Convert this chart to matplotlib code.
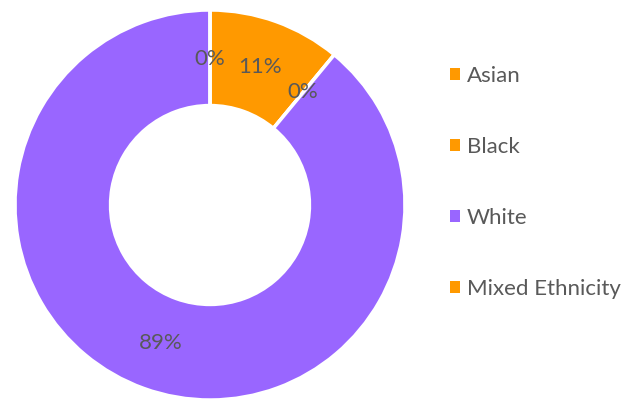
import matplotlib.pyplot as plt
from matplotlib.patches import Patch

# ethnicity breakdown (percent)
groups = ['Asian', 'Black', 'White', 'Mixed Ethnicity']
shares = [11, 0, 89, 0]
colors = ['#FF9900', '#FF9900', '#9966FF', '#FF9900']

plt.rcParams['font.family'] = ['Lato', 'DejaVu Sans']
text_col = '#595959'

fig = plt.figure(figsize=(6.41, 3.99), dpi=100)
ax = fig.add_axes([15 / 641, -1 / 399, 390 / 641, 390 / 399])

wedges, _, autotexts = ax.pie(
    shares, colors=colors, startangle=90, counterclock=False,
    radius=1.0, autopct='%1.0f%%', pctdistance=0.75,
    wedgeprops=dict(width=0.49, edgecolor='white', linewidth=2.5),
    textprops=dict(color=text_col, fontsize=16),
)
ax.set_aspect('equal')
ax.set_xlim(-1, 1)
ax.set_ylim(-1, 1)

handles = [Patch(facecolor=c, edgecolor='none') for c in colors]
leg = fig.legend(handles, groups, loc='upper left',
                 bbox_to_anchor=(450 / 641, 1 - 66 / 399),
                 frameon=False, fontsize=16, labelcolor=text_col,
                 handlelength=0.45, handleheight=0.45, handletextpad=0.3,
                 labelspacing=2.3, borderpad=0, borderaxespad=0)

fig.savefig('out.png', dpi=100)
